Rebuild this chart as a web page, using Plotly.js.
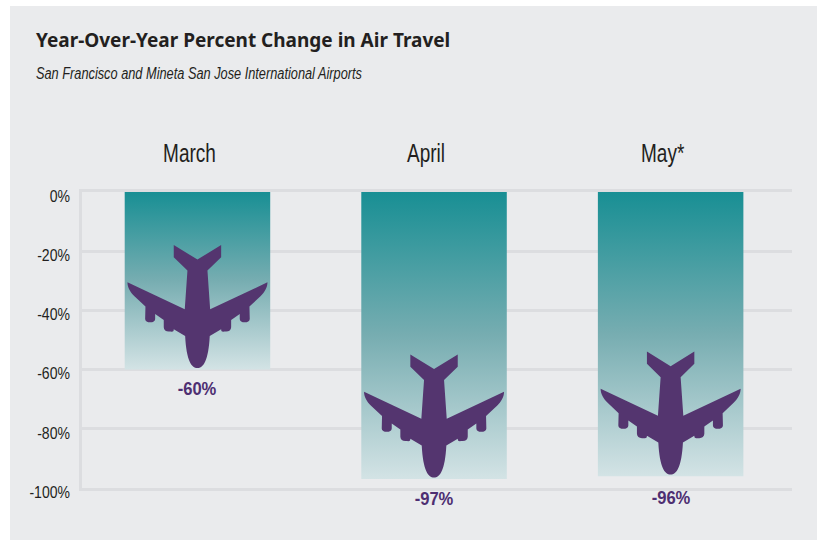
<!DOCTYPE html>
<html><head><meta charset="utf-8">
<script src="https://cdn.plot.ly/plotly-3.0.1.min.js"></script>
<style>html,body{margin:0;padding:0;background:#fff;overflow:hidden}#c{position:absolute;left:10px;top:6px;width:807px;height:534px}</style>
</head><body><div id="c"></div>
<svg width="0" height="0" style="position:absolute"><defs><linearGradient id="barFade" x1="0" y1="0" x2="0" y2="1"><stop offset="0" stop-color="#188f94"/><stop offset="0.5" stop-color="#77adb1"/><stop offset="1" stop-color="#d3e3e5"/></linearGradient></defs></svg>
<script>
const months = ["March","April","May*"];
const changes = [-60,-97,-96];
const valueLabels = ["-60%","-97%","-96%"];
const tickValues = [0,-20,-40,-60,-80,-100];
const tickLabels = ["0%","-20%","-40%","-60%","-80%","-100%"];
const labelGaps = [19,20,22];
// right half of the aeroplane silhouette (pixels from the bar end, nose to tail)
const noseStart = [0,1.7];
const halfSegs = [
 [[6,1.7],[11,9],[12.3,33.7]],
 [[23.7,40.3]],[[23.7,37],[25.5,38],[28.7,38]],[[31.5,38],[33.7,39.5],[33.7,42.3]],[[33.7,49.7]],
 [[42.3,55.7]],[[42.3,50.7]],[[42.3,48.5],[44.5,47.3],[47.3,47.3]],[[50,47.3],[52.3,48.5],[52.3,50.7]],[[52,63]],
 [[63,73.3]],[[67,77],[70,82],[70,87.3]],
 [[12.7,60.3]],[[10,99]],[[23.7,112.3]],[[23.7,124.7]],[[0,110]]
];
function planePath(){
  const pt = p => p[0]+" "+p[1];
  const mir = p => [-p[0],p[1]];
  let d = "M"+pt(noseStart);
  halfSegs.forEach(s=>{ d += s.length===1 ? " L"+pt(s[0]) : " C"+s.map(pt).join(" "); });
  for(let i=halfSegs.length-1;i>=0;i--){
    const s = halfSegs[i];
    const prev = i>0 ? halfSegs[i-1][halfSegs[i-1].length-1] : noseStart;
    if(s.length===1) d += " L"+pt(mir(prev));
    else d += " C"+[s[1],s[0],prev].map(mir).map(pt).join(" ");
  }
  return d+" Z";
}
const planePathStr = planePath();
const narrow = "'Liberation Sans',sans-serif";
const data = [{type:"bar",x:months,y:changes,width:0.615,marker:{color:"#188f94",line:{width:0}},hoverinfo:"x+y"}];
const layout = {
  width:807,height:534,margin:{l:72,r:25,t:186,b:52},
  paper_bgcolor:"#eaebed",plot_bgcolor:"rgba(0,0,0,0)",showlegend:false,
  font:{family:narrow,color:"#231f20"},
  title:{text:"<b>Year-Over-Year Percent Change in Air Travel</b>",x:26/807,xanchor:"left",y:1-34/534,yanchor:"middle",font:{family:"'Noto Sans',sans-serif",size:19,color:"#231f20"}},
  xaxis:{type:"category",categoryorder:"array",categoryarray:months,side:"top",range:[-0.488,2.513],showgrid:false,showline:true,mirror:true,linecolor:"#dcdde0",linewidth:2.5,layer:"below traces",zeroline:false,ticks:"",tickfont:{size:25,color:"#231f20"},ticklabelstandoff:17,ticklabelshift:-8},
  yaxis:{range:[-100,0],tickmode:"array",tickvals:tickValues,ticktext:tickLabels,showgrid:true,gridcolor:"#dcdde0",gridwidth:2.5,zeroline:false,showline:true,linecolor:"#dcdde0",linewidth:2.5,layer:"below traces",ticks:"",tickfont:{size:16.5,color:"#231f20"},ticklabelstandoff:6,ticklabelshift:4},
  annotations:[
    {xref:"paper",yref:"paper",x:-48/710,xanchor:"left",y:1,yanchor:"middle",showarrow:false,text:"<i>San Francisco and Mineta San Jose International Airports</i>",font:{size:16,color:"#231f20"},yshift:119,align:"left"}
  ].concat(months.map((m,i)=>({x:m,y:changes[i],xref:"x",yref:"y",text:"<b>"+valueLabels[i]+"</b>",showarrow:false,yshift:-labelGaps[i],font:{size:18,color:"#4e2f72"}}))),
  shapes:months.map((m,i)=>({type:"path",xref:"x",yref:"y",xsizemode:"pixel",ysizemode:"pixel",xanchor:m,yanchor:changes[i],path:planePathStr,fillcolor:"#54356f",line:{width:0},layer:"above"}))
};
const gd = document.getElementById("c");
function squeeze(sel,ratio){
  gd.querySelectorAll(sel).forEach(t=>{
    t.removeAttribute("textLength");
    const w=t.getComputedTextLength();
    if(w>0){t.setAttribute("textLength",(w*ratio).toFixed(1));t.setAttribute("lengthAdjust","spacingAndGlyphs");}
  });
}
function finish(){
  gd.querySelectorAll(".barlayer .point path").forEach(p=>{p.style.fill="url(#barFade)";});
  squeeze(".xtick text",0.76);
  squeeze(".ytick text",0.85);
  gd.querySelectorAll(".annotation-text").forEach((t,i)=>{
    t.removeAttribute("textLength");
    const w=t.getComputedTextLength();
    const r=i===0?326/w:0.92;
    t.setAttribute("textLength",(w*r).toFixed(1));t.setAttribute("lengthAdjust","spacingAndGlyphs");
  });
}
Plotly.newPlot(gd,data,layout,{displayModeBar:false}).then(()=>{finish();});
</script></body></html>
